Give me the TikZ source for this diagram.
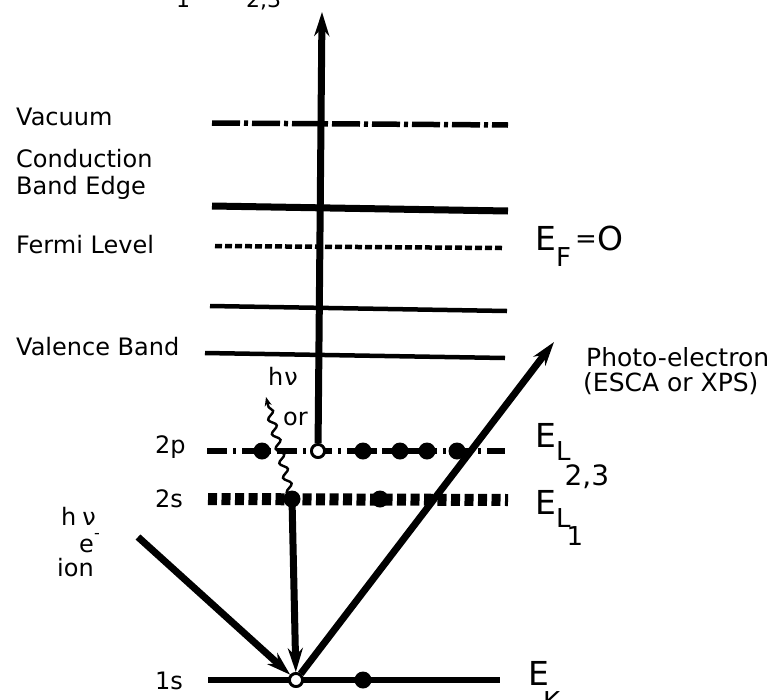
\documentclass[tikz,border=0pt]{standalone}
\usepackage{fontspec}
\setmainfont{DejaVu Sans}
\usetikzlibrary{arrows.meta,decorations.pathmorphing}
\newcommand\subf{\fontsize{26}{28}\selectfont}
\newcommand\subsubf{\fontsize{28}{30}\selectfont}
\begin{document}
\begin{tikzpicture}[x=1pt,y=-1pt,
  lbl/.style={inner sep=0pt,anchor=base west,font=\fontsize{24}{28}\selectfont},
  rlbl/.style={inner sep=0pt,anchor=base west,font=\fontsize{25}{29}\selectfont},
  elbl/.style={inner sep=0pt,anchor=base west,font=\fontsize{33}{36}\selectfont},
  toplbl/.style={inner sep=0pt,anchor=base west,font=\fontsize{22}{24}\selectfont},
  lvl/.style={line width=4.5pt},
  vaclvl/.style={line width=5.5pt,dash pattern=on 28pt off 4pt on 4pt off 4pt},
  cbelvl/.style={line width=7pt},
  ferlvl/.style={line width=4.5pt,dash pattern=on 7pt off 3pt},
  plvl/.style={line width=5.5pt,dash pattern=on 20pt off 6pt on 3pt off 6pt},
  slvl/.style={line width=12pt,dash pattern=on 9pt off 4.5pt},
  klvl/.style={line width=6.5pt},
  elec/.style={circle,fill=black,minimum size=17pt,inner sep=0pt},
  hole/.style={circle,draw=black,line width=2.8pt,fill=white,minimum size=13pt,inner sep=0pt},
  bigarrow/.style={line width=7pt,-{Stealth[length=24pt,width=15pt]}},
  wavy/.style={line width=2.4pt,-{Stealth[length=9pt,width=7pt]},decorate,
    decoration={snake,amplitude=3.5pt,segment length=15pt,pre length=3pt,post length=7pt}}
]
\useasboundingbox (0,0) rectangle (779,699);

% top cut-off labels
\node[toplbl] (t1) at (176,7) {1};
\node[toplbl] (t23) at (246,7) {2,3};

% level end points
\coordinate (vacA) at (212,123); \coordinate (vacB) at (508,125);
\coordinate (cbeA) at (212,206); \coordinate (cbeB) at (508,211);
\coordinate (ferA) at (215,246); \coordinate (ferB) at (502,248);
\coordinate (vbtA) at (210,306); \coordinate (vbtB) at (507,311);
\coordinate (vbbA) at (205,353); \coordinate (vbbB) at (505,358);
\coordinate (ppA) at (207,451); \coordinate (ppB) at (505,451);
\coordinate (ssA) at (208,499); \coordinate (ssB) at (508,500);
\coordinate (kkA) at (208,680); \coordinate (kkB) at (500,680);

\draw[vaclvl] (vacA) -- (vacB);
\draw[cbelvl] (cbeA) -- (cbeB);
\draw[ferlvl] (ferA) -- (ferB);
\draw[lvl] (vbtA) -- (vbtB);
\draw[lvl] (vbbA) -- (vbbB);
\draw[plvl] (ppA) -- (ppB);
\draw[slvl] (ssA) -- (ssB);
\draw[klvl] (kkA) -- (kkB);

% left labels
\node[lbl] (vac) at (16,125) {Vacuum};
\node[lbl] (cond) at (16,167) {Conduction};
\node[lbl] (bedge) at (16,194) {Band Edge};
\node[lbl] (fermi) at (16,253) {Fermi Level};
\node[lbl] (val) at (16,355) {Valence Band};
\node[lbl] (l2p) at (155,453) {2p};
\node[lbl] (l2s) at (155,507) {2s};
\node[lbl] (l1s) at (155,689) {1s};

% right labels
\node[elbl] (EF) at (535,250) {E\raisebox{-16pt}{\subf F}\hspace{4pt}\raisebox{3pt}{\subf =}\hspace{1pt}O};
\node[elbl] (EL23) at (535,447) {E\raisebox{-13pt}{\subf L\hspace{-6pt}\raisebox{-25pt}{\subsubf 2,3}}};
\node[elbl] (EL1) at (535,514) {E\raisebox{-13pt}{\subf L\hspace{-4pt}\raisebox{-18pt}{1}}};
\node[elbl] (EK) at (528,685) {E\hspace{-6pt}\raisebox{-25pt}{\subf K}};
\node[rlbl] (photo) at (586,366) {Photo-electron};
\node[rlbl] (esca) at (583,391) {(ESCA or XPS)};

% small labels
\node[lbl] (hnu1) at (268,385) {h\kern1ptν};
\node[lbl] (or) at (283,425) {or};
\node[lbl] (hnu2) at (61,525) {h\kern6ptν};
\node[lbl] (em) at (79,552) {e};
\node[lbl,font=\fontsize{16}{18}\selectfont] (emin) at (94,538) {-};
\node[lbl] (ion) at (57,576) {ion};

% electrons and holes
\node[elec] (p1) at (262,451) {};
\node[hole] (ph) at (318,451) {};
\node[elec] (p2) at (363,451) {};
\node[elec] (p3) at (400,451) {};
\node[elec] (p4) at (427,451) {};
\node[elec] (p5) at (457,451) {};
\node[elec] (s1) at (292,499) {};
\node[elec] (s2) at (380,499) {};
\node[hole] (kh) at (296,680) {};
\node[elec] (k1) at (363,680) {};

\draw[line width=6pt] (p3) -- (p4);
\draw[line width=6pt] (p2.center) -- +(14,0);

% connector end points
\coordinate (toptip) at (322,12);
\coordinate (intail) at (138,537);
\coordinate (phtip) at (554,342);
\coordinate (wtip) at (266,397);

% arrows
\draw[bigarrow] (ph) -- (toptip);
\draw[bigarrow] (s1.center) -- (kh);
\draw[bigarrow] (intail) -- (kh);
\draw[bigarrow] (kh) -- (phtip);
\draw[wavy] (s1.center) -- (wtip);

% redraw holes on top
\node[hole] at (ph) {};
\node[hole] at (kh) {};
\end{tikzpicture}
\end{document}
